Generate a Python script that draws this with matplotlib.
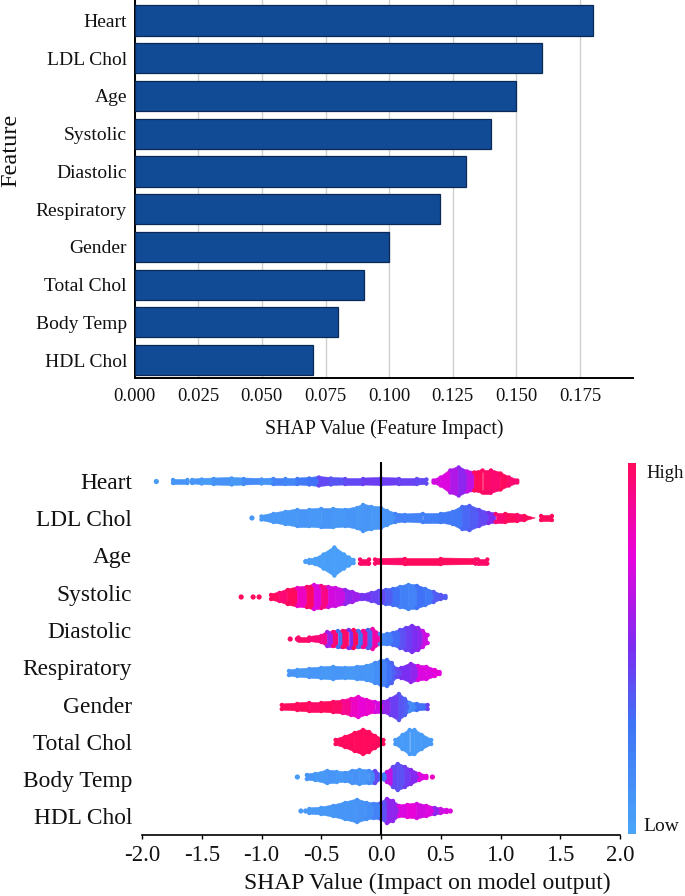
import matplotlib
matplotlib.use("Agg")
from matplotlib import pyplot as plt
from matplotlib.cm import ScalarMappable
from matplotlib.collections import PolyCollection
from matplotlib.colors import LinearSegmentedColormap, Normalize

plt.rcParams['font.family'] = ['Liberation Serif', 'DejaVu Serif']

FEATURES = ["Heart", "LDL Chol", "Age", "Systolic", "Diastolic", "Respiratory",
            "Gender", "Total Chol", "Body Temp", "HDL Chol"]
IMPACT = [0.18, 0.16, 0.15, 0.14, 0.13, 0.12, 0.10, 0.09, 0.08, 0.07]
BAR_TICKS = [0.0, 0.025, 0.05, 0.075, 0.1, 0.125, 0.15, 0.175]
SWARM_TICKS = [-2.0, -1.5, -1.0, -0.5, 0.0, 0.5, 1.0, 1.5, 2.0]

# row centres and label rows of the lower panel, in pixels from the top of the figure
ROW_Y = [481.5, 518, 561.5, 597, 639, 673, 707, 742, 777, 811]
LABEL_Y = [483, 520, 558, 595, 632, 669, 707, 744, 781, 818]

# swarm outlines: shap value, half height in px, feature value (0 low, 1 high)
HEART_X = [-1.74, -1.62, -1.6, -1.58, -1.5, -1.4, -1.25, -1.15, -1.0, -0.9, -0.8, -0.7, -0.6, -0.52, -0.42, -0.3, -0.15, 0.0, 0.15, 0.3, 0.38, 0.38, 0.44, 0.44, 0.5, 0.58, 0.65, 0.72, 0.78, 0.85, 0.92, 1.0, 1.07, 1.14]
HEART_H = [2.5, 2.5, 0, 2.5, 3, 3.5, 4, 3.5, 3, 3.5, 3.5, 3.5, 4, 5, 4, 3.5, 3.5, 4, 3.5, 3.5, 3, 0, 0, 2, 5, 12, 15, 11, 10, 12, 12, 9, 5, 2]
HEART_C = [0.1, 0.1, 0.1, 0.1, 0.06, 0.12, 0.08, 0.16, 0.1, 0.2, 0.18, 0.25, 0.3, 0.42, 0.38, 0.42, 0.45, 0.45, 0.44, 0.42, 0.42, 0.42, 0.6, 0.7, 0.72, 0.62, 0.54, 0.66, 1.0, 0.98, 0.96, 1.0, 0.96, 0.95]
LDL_X = [-1.0, -0.9, -0.8, -0.7, -0.6, -0.5, -0.4, -0.3, -0.2, -0.15, -0.08, 0.0, 0.05, 0.12, 0.2, 0.35, 0.5, 0.6, 0.68, 0.74, 0.82, 0.9, 0.96, 1.04, 1.14, 1.2, 1.29, 1.29, 1.34, 1.34, 1.43]
LDL_H = [2.5, 5, 7, 9, 9, 10, 10, 9, 11, 14, 12, 11, 8, 5, 4, 5, 5, 7, 12, 13, 9, 6, 5, 5, 4, 3, 0, 0, 0, 3, 3]
LDL_C = [0.08, 0.08, 0.08, 0.1, 0.08, 0.1, 0.08, 0.1, 0.08, 0.1, 0.08, 0.1, 0.12, 0.2, 0.2, 0.22, 0.25, 0.26, 0.33, 0.36, 0.42, 0.5, 0.95, 1.0, 0.97, 1.0, 1.0, 1.0, 1.0, 1.0, 1.0]
AGE_X = [-0.6, -0.55, -0.48, -0.39, -0.31, -0.27, -0.23, -0.23, -0.175, -0.175, -0.1, -0.1, -0.05, -0.05, 0.2, 0.5, 0.79, 0.79, 0.81, 0.81, 0.89]
AGE_H = [2.5, 3.5, 8, 15, 8, 5, 2.5, 0, 0, 3, 3, 0, 0, 3, 3.5, 3.5, 3, 0, 0, 3, 3]
AGE_C = [0.04, 0.04, 0.04, 0.05, 0.05, 0.05, 0.05, 0.05, 0.98, 0.98, 0.98, 0.98, 0.98, 0.98, 1.0, 1.0, 0.98, 0.98, 0.98, 0.98, 0.98]
SYS_X = [-0.92, -0.85, -0.78, -0.7, -0.62, -0.56, -0.5, -0.44, -0.38, -0.3, -0.24, -0.16, -0.08, -0.02, 0.04, 0.1, 0.16, 0.23, 0.3, 0.37, 0.44, 0.5, 0.54]
SYS_H = [3, 5, 8, 10, 11, 13, 12, 11, 10, 8, 6, 3, 5, 7, 8, 9, 11, 13, 12, 9, 6, 3, 2]
SYS_C = [1.0, 0.95, 1.0, 0.8, 0.98, 0.72, 0.92, 0.7, 0.68, 0.55, 0.58, 0.48, 0.44, 0.42, 0.36, 0.3, 0.22, 0.2, 0.3, 0.25, 0.36, 0.38, 0.36]
DIA_X = [-0.69, -0.6, -0.5, -0.45, -0.4, -0.36, -0.32, -0.27, -0.23, -0.19, -0.15, -0.11, -0.07, -0.01, 0.05, 0.1, 0.16, 0.21, 0.26, 0.31, 0.35, 0.39]
DIA_H = [2.5, 2.5, 4, 8, 8, 9, 9, 10, 10, 9, 9, 10, 11, 6, 6, 7, 10, 12, 14, 12, 9, 5]
DIA_C = [0.98, 0.95, 0.9, 0.58, 0.95, 0.3, 0.98, 0.5, 1.0, 0.3, 0.9, 0.35, 0.85, 0.18, 0.22, 0.32, 0.4, 0.45, 0.5, 0.55, 0.68, 0.7]
RES_X = [-0.77, -0.7, -0.6, -0.5, -0.4, -0.3, -0.2, -0.12, -0.05, 0.0, 0.05, 0.09, 0.13, 0.17, 0.25, 0.31, 0.38, 0.45, 0.49]
RES_H = [3, 4, 5, 6, 7, 6, 7, 8, 11, 13, 14, 11, 5, 6, 10, 8, 7, 4, 2]
RES_C = [0.1, 0.08, 0.1, 0.08, 0.1, 0.08, 0.1, 0.1, 0.14, 0.2, 0.3, 0.35, 0.42, 0.5, 0.55, 0.72, 0.72, 0.76, 0.75]
GEN_X = [-0.83, -0.7, -0.6, -0.5, -0.4, -0.32, -0.25, -0.19, -0.12, -0.05, 0.02, 0.08, 0.15, 0.2, 0.24, 0.3, 0.39]
GEN_H = [3, 4, 5, 5, 6, 7, 9, 11, 8, 6, 6, 9, 14, 9, 5, 4, 3]
GEN_C = [1.0, 1.0, 0.98, 1.0, 0.98, 0.9, 0.8, 0.76, 0.78, 0.7, 0.55, 0.45, 0.38, 0.35, 0.16, 0.3, 0.45]
TOT_X = [-0.38, -0.3, -0.22, -0.15, -0.1, -0.05, 0.02, 0.02, 0.12, 0.12, 0.18, 0.24, 0.28, 0.34, 0.42]
TOT_H = [3, 6, 10, 13, 11, 7, 3, 0, 0, 3, 8, 13, 13, 8, 3]
TOT_C = [1.0, 1.0, 1.0, 1.0, 1.0, 1.0, 1.0, 1.0, 0.07, 0.07, 0.07, 0.06, 0.06, 0.07, 0.07]
TMP_X = [-0.62, -0.55, -0.45, -0.37, -0.3, -0.24, -0.18, -0.1, -0.05, 0.0, 0.05, 0.1, 0.14, 0.2, 0.25, 0.32, 0.38]
TMP_H = [3, 4, 7, 6, 5, 7, 8, 7, 7, 3, 6, 11, 14, 11, 8, 4, 2]
TMP_C = [0.1, 0.08, 0.1, 0.08, 0.1, 0.12, 0.1, 0.16, 0.42, 0.25, 0.65, 0.42, 0.4, 0.46, 0.52, 0.72, 0.74]
HDL_X = [-0.6, -0.5, -0.4, -0.3, -0.2, -0.12, -0.06, 0.0, 0.05, 0.1, 0.15, 0.22, 0.3, 0.38, 0.45, 0.5, 0.55]
HDL_H = [3, 4, 6, 9, 12, 9, 8, 9, 13, 11, 6, 7, 8, 6, 4, 3, 2]
HDL_C = [0.08, 0.08, 0.1, 0.1, 0.12, 0.14, 0.2, 0.4, 0.55, 0.55, 0.72, 0.75, 0.7, 0.72, 0.55, 0.68, 0.72]

SWARM_X = [HEART_X, LDL_X, AGE_X, SYS_X, DIA_X, RES_X, GEN_X, TOT_X, TMP_X, HDL_X]
SWARM_H = [HEART_H, LDL_H, AGE_H, SYS_H, DIA_H, RES_H, GEN_H, TOT_H, TMP_H, HDL_H]
SWARM_C = [HEART_C, LDL_C, AGE_C, SYS_C, DIA_C, RES_C, GEN_C, TOT_C, TMP_C, HDL_C]

# stray points: row index, shap value, feature value
DOT_ROW = [0, 1, 2, 3, 3, 3, 4, 4, 8, 8, 9, 9, 9]
DOT_X = [-1.88, -1.08, -0.63, -1.17, -1.07, -1.02, -0.76, -0.7, -0.7, 0.43, -0.67, -0.63, 0.58]
DOT_C = [0.06, 0.08, 0.05, 1.0, 1.0, 1.0, 0.98, 0.96, 0.06, 0.8, 0.06, 0.08, 0.72]

W, H = 685, 896
BAR_COLOR = "#114b96"
shap_cmap = LinearSegmentedColormap.from_list(
    "shap", [(0, "#4aa6f8"), (0.3, "#3f72f6"), (0.5, "#7b2df2"), (0.75, "#e802dc"), (1, "#ff0a5c")])


def box(x0, y0, x1, y1):
    # pixel box to figure fractions
    return [x0 / W, 1 - y1 / H, (x1 - x0) / W, (y1 - y0) / H]


def main():
    fig = plt.figure(figsize=(W / 100, H / 100), dpi=100)

    # Bar panel
    ax = fig.add_axes(box(134.6, 0, 633, 378))
    ax.barh(range(len(FEATURES)), IMPACT, height=0.8, color=BAR_COLOR, edgecolor="#0a2a55", linewidth=0.9, zorder=3)
    ax.set_ylim(9.476, -0.544)
    ax.set_xlim(0, 0.1958)
    ax.set_yticks(range(len(FEATURES)))
    ax.set_yticklabels(FEATURES, fontsize=14, color="#111111")
    ax.set_xticks(BAR_TICKS)
    ax.set_xticklabels(["%.3f" % t for t in BAR_TICKS], fontsize=13.5, color="#111111")
    ax.tick_params(axis="x", length=0, pad=7)
    ax.tick_params(axis="y", length=0, pad=5.5)
    ax.grid(axis="x", color="#cfcfcf", linewidth=1.0, zorder=0)
    ax.spines["top"].set_visible(False)
    ax.spines["right"].set_visible(False)
    ax.spines["left"].set_linewidth(1.4)
    ax.spines["bottom"].set_linewidth(1.4)
    fig.text(384 / W, 1 - 429 / H, "SHAP Value (Feature Impact)", fontsize=14.3, ha="center", va="center", color="#111111")
    fig.text(11 / W, 1 - 150 / H, "Feature", fontsize=17.5, rotation=90, ha="center", va="center", color="#111111")

    # Beeswarm panel, y runs in figure pixels
    ax2 = fig.add_axes(box(142, 462, 620, 835))
    ax2.set_xlim(-2, 2)
    ax2.set_ylim(835, 462)
    polys = []
    vals = []
    knot_x = []
    knot_y = []
    knot_c = []
    for y, xs, hs, cs in zip(ROW_Y, SWARM_X, SWARM_H, SWARM_C):
        for i in range(len(xs) - 1):
            if hs[i] == 0 and hs[i + 1] == 0:
                continue
            polys.append([(xs[i], y - hs[i]), (xs[i + 1], y - hs[i + 1]),
                          (xs[i + 1], y + hs[i + 1]), (xs[i], y + hs[i])])
            vals.append(cs[i])
        # round the outline off at every knot, so the rows are less angular
        for xk, hk, ck in zip(xs, hs, cs):
            if hk > 0:
                knot_x += [xk, xk]
                knot_y += [y - hk + 1, y + hk - 1]
                knot_c += [ck, ck]
    swarm = PolyCollection(polys, array=vals, cmap=shap_cmap, norm=Normalize(0, 1), linewidths=0.4, edgecolors="face", zorder=2)
    ax2.add_collection(swarm)
    ax2.scatter(knot_x, knot_y, c=knot_c, cmap=shap_cmap, vmin=0, vmax=1, s=10, linewidths=0, zorder=2)
    ax2.scatter(DOT_X, [ROW_Y[r] for r in DOT_ROW], c=DOT_C, cmap=shap_cmap, vmin=0, vmax=1, s=14, linewidths=0, zorder=2)
    ax2.axvline(0, color="black", linewidth=1.5, zorder=3)

    ax2.set_yticks([])
    for label, y in zip(FEATURES, LABEL_Y):
        fig.text(132 / W, 1 - y / H, label, fontsize=16.8, ha="right", va="center", color="#111111")
    ax2.set_xticks(SWARM_TICKS)
    ax2.set_xticklabels(["%.1f" % t for t in SWARM_TICKS], fontsize=16.5, color="#111111")
    ax2.tick_params(axis="x", length=3, width=1, pad=4.5)
    for side in ["top", "left", "right"]:
        ax2.spines[side].set_visible(False)
    ax2.spines["bottom"].set_linewidth(1.2)
    fig.text(427 / W, 1 - 883 / H, "SHAP Value (Impact on model output)", fontsize=17, ha="center", va="center", color="#111111")

    # Colour bar
    cax = fig.add_axes(box(628, 463, 636, 834))
    cbar = fig.colorbar(ScalarMappable(norm=Normalize(0, 1), cmap=shap_cmap), cax=cax)
    cbar.set_ticks([])
    cbar.outline.set_visible(False)
    fig.text(646 / W, 1 - 473 / H, "High", fontsize=13.5, ha="left", va="center", color="#111111")
    fig.text(643 / W, 1 - 826 / H, "Low", fontsize=14, ha="left", va="center", color="#111111")

    fig.savefig("out.png", dpi=100)


main()
